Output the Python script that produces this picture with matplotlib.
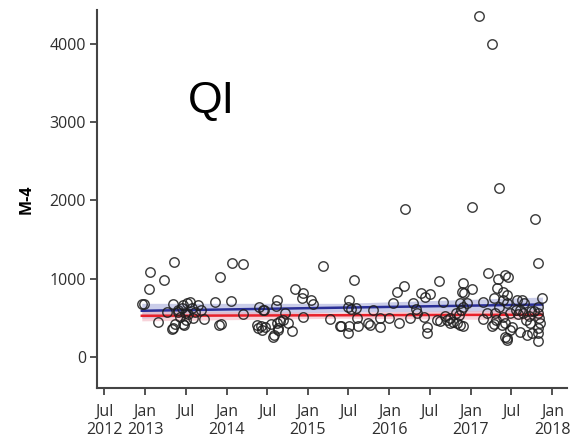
import matplotlib
matplotlib.use("Agg")
import matplotlib.pyplot as plt
import numpy as np
import pandas as pd

# sample dates (decimal years) and M-4 values
years = [2012.96, 2012.99, 2013.06, 2013.05, 2013.23, 2013.36, 2013.16, 2013.27, 2013.34, 2013.34,
         2013.37, 2013.45, 2013.48, 2013.55, 2013.58, 2013.59, 2013.65, 2013.69, 2013.72, 2013.43,
         2013.49, 2013.33, 2013.47, 2013.41, 2013.53, 2013.61, 2013.50, 2013.40, 2013.52, 2013.46,
         2013.86, 2013.92, 2013.91, 2013.93, 2014.06, 2014.07, 2014.20, 2014.20,
         2014.40, 2014.39, 2014.46, 2014.47, 2014.38, 2014.44, 2014.45, 2014.62, 2014.61, 2014.58,
         2014.63, 2014.62, 2014.72, 2014.70, 2014.81, 2014.76, 2014.57, 2014.63, 2014.42, 2014.66,
         2014.55, 2014.84, 2014.94, 2014.93, 2015.04, 2015.06, 2014.94, 2015.19, 2015.27, 2015.40,
         2015.56, 2015.51, 2015.49, 2015.53, 2015.59, 2015.41, 2015.51, 2015.49, 2015.62, 2015.60,
         2015.74, 2015.76, 2015.80, 2015.89, 2015.89, 2015.99, 2016.05,
         2016.12, 2016.10, 2016.18, 2016.19, 2016.26, 2016.29, 2016.33, 2016.34, 2016.39, 2016.44,
         2016.50, 2016.42, 2016.46, 2016.46, 2016.61, 2016.59, 2016.62, 2016.66, 2016.71, 2016.75,
         2016.78, 2016.83, 2016.87, 2016.91, 2016.91, 2016.89, 2016.92, 2016.87, 2016.91, 2016.96,
         2017.02, 2017.02, 2017.10, 2016.82, 2016.75, 2016.68, 2016.88, 2016.85,
         2017.15, 2017.15, 2017.21, 2017.34, 2017.42, 2017.46, 2017.32, 2017.39, 2017.28, 2017.26,
         2017.29, 2017.31, 2017.40, 2017.45, 2017.44, 2017.42, 2017.45, 2017.48, 2017.51, 2017.57,
         2017.63, 2017.66, 2017.61, 2017.64, 2017.61, 2017.69, 2017.75, 2017.71, 2017.74, 2017.26,
         2017.35, 2017.79, 2017.82, 2017.88, 2017.82, 2017.83, 2017.84, 2017.85, 2017.83, 2017.82,
         2017.82, 2017.78, 2017.73, 2017.39, 2017.42, 2017.38, 2017.45, 2017.55, 2017.58, 2017.68,
         2017.35, 2017.30, 2017.20, 2017.48]
m4 = [677, 677, 1085, 868, 983, 1213, 447, 575, 677, 370,
      421, 626, 409, 702, 626, 498, 664, 600, 485, 511,
      562, 358, 421, 575, 549, 575, 472, 600, 690, 660,
      702, 1022, 409, 421, 715, 1200, 1188, 549,
      638, 370, 600, 383, 409, 345, 600, 728, 651, 281,
      345, 434, 562, 472, 332, 434, 255, 370, 396, 460,
      420, 868, 817, 753, 728, 677, 511, 1162, 485, 396,
      983, 728, 638, 613, 626, 396, 396, 306, 396, 498,
      434, 409, 600, 498, 383, 498, 690,
      434, 830, 907, 1890, 498, 690, 613, 562, 817, 766,
      804, 511, 383, 306, 970, 472, 460, 702, 472, 434,
      447, 434, 409, 396, 945, 830, 817, 690, 638, 690,
      868, 1915, 4355, 560, 500, 520, 600, 540,
      702, 485, 1073, 996, 1047, 1022, 881, 830, 753, 396,
      421, 472, 728, 792, 243, 255, 217, 345, 383, 728,
      728, 690, 600, 562, 319, 281, 306, 523, 587, 3997,
      2158, 1762, 1200, 753, 638, 562, 498, 434, 370, 306,
      204, 587, 434, 511, 434, 400, 690, 600, 550, 470,
      640, 560, 560, 560]

# trend lines: decimal years, fitted values and confidence half-widths
trend_years = [2012.96, 2015.42, 2017.88]
blue_fit = [588, 628, 668]
blue_half = [95, 55, 95]
red_fit = [524, 531, 538]
red_half = [65, 38, 65]

tick_labels = ["Jul\n2012", "Jan\n2013", "Jul", "Jan\n2014", "Jul", "Jan\n2015", "Jul",
               "Jan\n2016", "Jul", "Jan\n2017", "Jul", "Jan\n2018"]
y_ticks = [0, 1000, 2000, 3000, 4000]


def to_date(y):
    y = np.asarray(y, dtype=float)
    return pd.Timestamp("2012-01-01") + pd.to_timedelta((y - 2012) * 365.25, unit="D")


plt.rcParams["font.family"] = ["Open Sans", "DejaVu Sans"]

fig = plt.figure(figsize=(5.88, 4.43), dpi=100)
ax = fig.add_axes([0.165, 0.124, 0.799, 0.853])

tx = to_date(trend_years)
bf = np.array(blue_fit)
rf = np.array(red_fit)
ax.fill_between(tx, bf - np.array(blue_half), bf + np.array(blue_half),
                color="#b4b8e0", alpha=0.7, lw=0, zorder=1)
ax.fill_between(tx, rf - np.array(red_half), rf + np.array(red_half),
                color="#f2b0bc", alpha=0.55, lw=0, zorder=1)
ax.plot(tx, bf, color="#2a2f96", lw=1.8, zorder=2)
ax.plot(tx, rf, color="#e8212b", lw=1.8, zorder=2)

ax.plot(to_date(years), m4, "o", ms=6.8, mfc="none", mec="#1e1e1e", mew=1.05,
        alpha=0.85, zorder=3)

ax.set_xlim(to_date([2012.41])[0], to_date([2018.18])[0])
ax.set_ylim(-400, 4430)

tick_dates = pd.date_range("2012-07-01", "2018-01-01", freq="6MS")
ax.set_xticks(tick_dates)
ax.set_xticklabels(tick_labels, fontsize=11.5, color="#2e2e2e", linespacing=1.25)
ax.set_yticks(y_ticks)
ax.set_yticklabels([str(v) for v in y_ticks], fontsize=11.5, color="#2e2e2e")
ax.tick_params(axis="x", length=5, width=1.3, color="#444444", pad=6)
ax.tick_params(axis="y", length=5, width=1.3, color="#444444", pad=3)

for s in ["top", "right"]:
    ax.spines[s].set_visible(False)
for s in ["left", "bottom"]:
    ax.spines[s].set_linewidth(1.5)
    ax.spines[s].set_color("#444444")

ax.set_ylabel("M-4", fontsize=11.5, fontweight="bold", labelpad=11)
ax.text(0.194, 0.728, "QI", transform=ax.transAxes, fontsize=32,
        family="Liberation Sans", color="black")

fig.savefig("out.png", dpi=100)
